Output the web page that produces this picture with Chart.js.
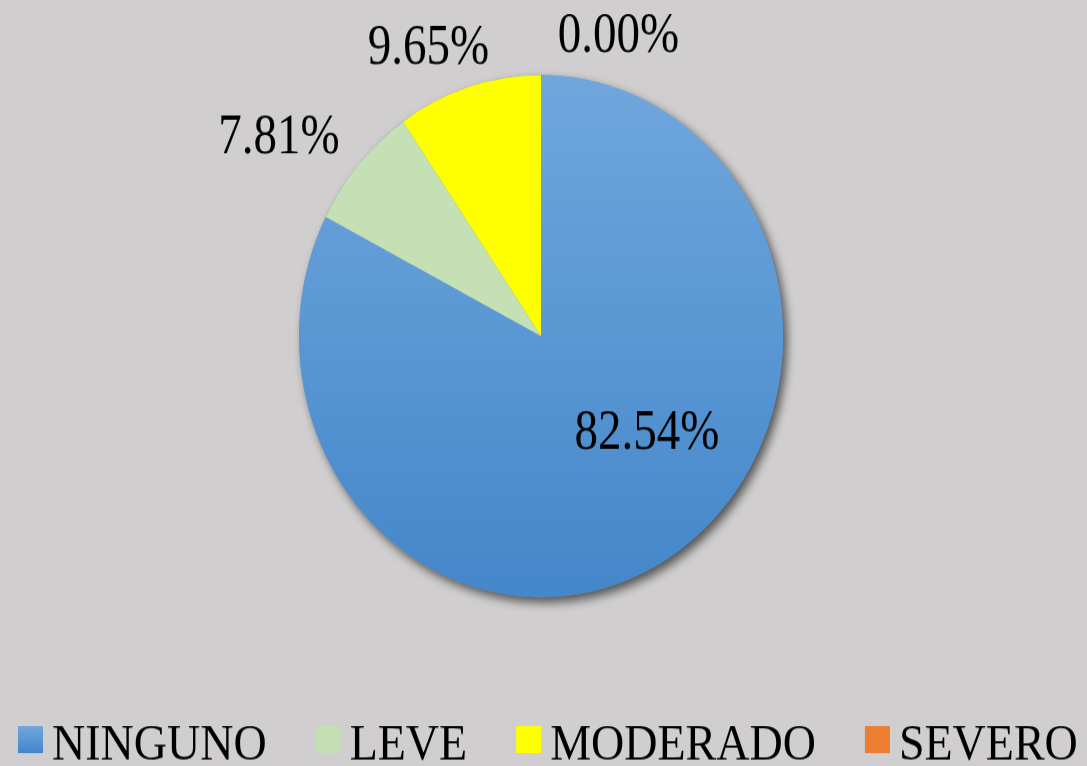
<!DOCTYPE html>
<html lang="es">
<head>
  <meta charset="UTF-8">
  <title>Gráfica de severidad</title>
  <script src="https://cdn.jsdelivr.net/npm/chart.js"></script>
  <style>
    body { margin: 0; background: #d0cece; }
  </style>
</head>
<body>
  <!-- bitmap is 710 tall and shown 766 tall, like the stretched original -->
  <canvas id="pieChart" width="1087" height="710" style="display:block;width:1087px;height:766px"></canvas>
  <script>
    const categories = ['NINGUNO', 'LEVE', 'MODERADO', 'SEVERO'];
    const percentages = [82.54, 7.81, 9.65, 0.00];
    const colors = ['#5b9bd5', '#c5e0b4', '#ffff00', '#ed7d31'];
    // where each percent label sits, as a fraction of the radius from the centre
    const labelOffsets = [[0.438, 0.358], [-1.083, -0.774], [-0.465, -1.119], [0.320, -1.163]];

    const pieRadius = 242;
    const serif = '"Liberation Serif", "Times New Roman", serif';

    function sliceFill(context) {
      const i = context.dataIndex;
      const chart = context.chart;
      const area = chart.chartArea;
      if (i !== 0 || !area) return colors[i];
      const cy = (area.top + area.bottom) / 2;
      const g = chart.ctx.createLinearGradient(0, cy - pieRadius, 0, cy + pieRadius);
      g.addColorStop(0, '#70a7dd');
      g.addColorStop(1, '#4487ca');
      return g;
    }

    const shadowPlugin = {
      id: 'pieShadow',
      beforeDatasetsDraw(chart) {
        const arc = chart.getDatasetMeta(0).data[0];
        const ctx = chart.ctx;
        ctx.save();
        ctx.shadowColor = 'rgba(0,0,0,0.6)';
        ctx.shadowBlur = 10;
        ctx.shadowOffsetX = 4;
        ctx.shadowOffsetY = 5;
        ctx.beginPath();
        ctx.arc(arc.x, arc.y, arc.outerRadius, 0, Math.PI * 2);
        ctx.fillStyle = '#5b9bd5';
        ctx.fill();
        ctx.restore();
      }
    };

    const labelPlugin = {
      id: 'percentLabels',
      afterDatasetsDraw(chart) {
        const meta = chart.getDatasetMeta(0);
        const ctx = chart.ctx;
        ctx.save();
        ctx.font = '47px ' + serif;
        ctx.fillStyle = '#000';
        ctx.textAlign = 'center';
        ctx.textBaseline = 'alphabetic';
        meta.data.forEach((arc, i) => {
          const r = arc.outerRadius;
          const x = arc.x + labelOffsets[i][0] * r;
          const y = arc.y + labelOffsets[i][1] * r;
          ctx.save();
          ctx.translate(x, y);
          ctx.scale(1, 1.14);
          ctx.fillText(percentages[i].toFixed(2) + '%', 0, 47 * 0.338);
          ctx.restore();
        });
        ctx.restore();
      }
    };

    // legend along the bottom, small gap between box and text
    const legendPlugin = {
      id: 'bottomLegend',
      afterDraw(chart) {
        const ctx = chart.ctx;
        const fontSize = 46;
        const box = 25;
        const capMid = chart.height - 21;
        let x = 18;
        ctx.save();
        ctx.font = fontSize + 'px ' + serif;
        ctx.textAlign = 'left';
        ctx.textBaseline = 'alphabetic';
        categories.forEach((name, i) => {
          if (i === 0) {
            const g = ctx.createLinearGradient(0, capMid - 16, 0, capMid - 16 + box);
            g.addColorStop(0, '#70a7dd');
            g.addColorStop(1, '#4487ca');
            ctx.fillStyle = g;
          } else {
            ctx.fillStyle = colors[i];
          }
          ctx.fillRect(x, capMid - 16, box, box);
          x += box + 9;
          ctx.fillStyle = '#000';
          ctx.fillText(name, x, capMid + fontSize * 0.331);
          x += ctx.measureText(name).width + 49;
        });
        ctx.restore();
      }
    };

    const ctx = document.getElementById('pieChart').getContext('2d');
    const pieChart = new Chart(ctx, {
      type: 'pie',
      data: {
        labels: categories,
        datasets: [{
          data: percentages,
          backgroundColor: sliceFill,
          borderWidth: 0,
          radius: pieRadius
        }]
      },
      options: {
        responsive: false,
        animation: false,
        layout: { padding: { left: 0, right: 5, top: 0, bottom: 87 } },
        plugins: {
          legend: { display: false },
          tooltip: { enabled: false }
        }
      },
      plugins: [shadowPlugin, labelPlugin, legendPlugin]
    });
  </script>
</body>
</html>
